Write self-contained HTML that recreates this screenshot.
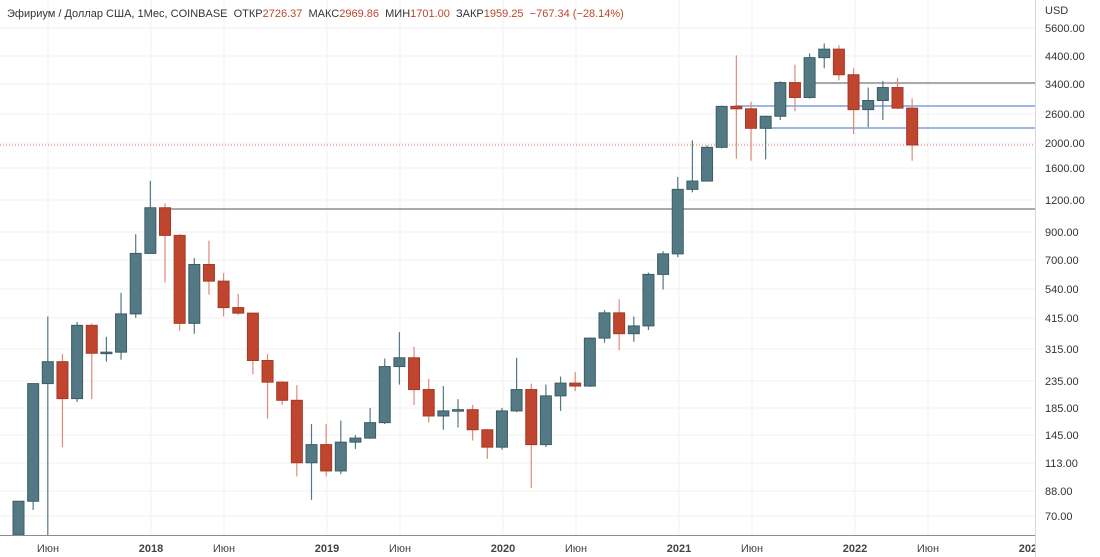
<!DOCTYPE html>
<html><head><meta charset="utf-8"><style>
html,body{margin:0;padding:0;background:#fff;width:1100px;height:557px;overflow:hidden}
svg{display:block;font-family:"Liberation Sans",sans-serif}
</style></head><body>
<svg id="c" width="1100" height="557" xmlns="http://www.w3.org/2000/svg">
<defs><clipPath id="cp"><rect x="0" y="0" width="1035" height="557"/></clipPath></defs>
<g id="grid"></g>
<line x1="0" y1="145" x2="1035" y2="145" stroke="#e06a5a" stroke-width="1" stroke-dasharray="1,2"/>
<line x1="160" y1="209" x2="1035" y2="209" stroke="#a9a9ae" stroke-width="2"/>
<line x1="815" y1="83" x2="1035" y2="83" stroke="#a9a9ae" stroke-width="2"/>
<line x1="735" y1="106" x2="1035" y2="106" stroke="#7f9ee0" stroke-width="1.5"/>
<line x1="765" y1="128" x2="1035" y2="128" stroke="#7f9ee0" stroke-width="1.5"/>
<g id="candles"></g>
<line x1="1035.5" y1="0" x2="1035.5" y2="557" stroke="#d6d6d6"/>
<line x1="0" y1="535.5" x2="1035" y2="535.5" stroke="#8c8c8c"/>
<text x="7" y="17" font-size="11" fill="#333">Эфириум / Доллар США, 1Мес, COINBASE&#160; ОТКР<tspan fill="#c0452e">2726.37</tspan>&#160; МАКС<tspan fill="#c0452e">2969.86</tspan>&#160; МИН<tspan fill="#c0452e">1701.00</tspan>&#160; ЗАКР<tspan fill="#c0452e">1959.25</tspan>&#160; <tspan fill="#c0452e">−767.34 (−28.14%)</tspan></text>
<g font-size="11" fill="#333">
<text x="1045" y="14">USD</text>
<text x="1045" y="32">5600.00</text><text x="1045" y="60">4400.00</text><text x="1045" y="88">3400.00</text>
<text x="1045" y="118">2600.00</text><text x="1045" y="147">2000.00</text><text x="1045" y="172">1600.00</text>
<text x="1045" y="204">1200.00</text><text x="1045" y="236">900.00</text><text x="1045" y="264">700.00</text>
<text x="1045" y="293">540.00</text><text x="1045" y="322">415.00</text><text x="1045" y="353">315.00</text>
<text x="1045" y="385">235.00</text><text x="1045" y="412">185.00</text><text x="1045" y="439">145.00</text>
<text x="1045" y="467">113.00</text><text x="1045" y="495">88.00</text><text x="1045" y="520">70.00</text>
</g>
<g font-size="11" fill="#444" text-anchor="middle" clip-path="url(#cp)">
<text x="48" y="552">Июн</text><text x="151" y="552" font-weight="bold">2018</text>
<text x="224" y="552">Июн</text><text x="327" y="552" font-weight="bold">2019</text>
<text x="400" y="552">Июн</text><text x="503" y="552" font-weight="bold">2020</text>
<text x="576" y="552">Июн</text><text x="679" y="552" font-weight="bold">2021</text>
<text x="752" y="552">Июн</text><text x="855" y="552" font-weight="bold">2022</text>
<text x="928" y="552">Июн</text><text x="1031" y="552" font-weight="bold">2023</text>
</g>
</svg>
<script>
var Y=function(p){return 989.4-111.4*Math.log(p)};
var d=[[50,80,48,80],[80,230,74,230],[230,420,40,280],[280,300,130,201],[201,400,195,388],[388,395,200,302],[302,350,280,305],[305,520,285,430],[430,880,415,740],
[740,1420,740,1115],[1115,1160,570,870],[870,880,370,395],[395,710,360,670],[670,830,510,577],[577,620,420,455],[455,515,425,433],[433,430,250,283],[283,300,168,233],[233,235,190,198],[198,227,100,113],[113,160,81,133],
[133,160,100,105],[105,165,102,136],[136,145,128,141],[141,185,140,162],[162,288,160,268],[268,365,228,290],[290,320,190,218],[218,240,162,172],[172,225,152,180],[180,200,155,182],[182,190,138,152],[152,153,117,130],
[130,185,127,180],[180,290,178,218],[218,230,90,133],[133,228,130,206],[206,245,180,231],[231,255,215,225],[225,348,223,346],[346,445,332,434],[434,490,310,360],[360,420,335,386],[386,623,372,613],[613,755,535,737],
[737,1470,715,1315],[1315,2040,1280,1417],[1417,1950,1410,1918],[1918,2790,1900,2770],[2770,4380,1730,2710],[2710,2890,1700,2275],[2275,2550,1720,2535],[2535,3470,2450,3430],[3430,4030,2650,3000],[3000,4460,2970,4290],[4290,4870,3900,4630],[4630,4800,3500,3680],
[3680,3900,2160,2690],[2690,3280,2300,2920],[2920,3480,2450,3280],[3280,3580,2700,2727],[2727,2970,1701,1959]];
var s='';
d.forEach(function(c,i){
 var x=18.5+i*14.65,o=c[0],h=c[1],l=c[2],cl=c[3],up=cl>=o;
 var fill=up?'#537a84':'#c0452e',st=up?'#3c5c66':'#a53a26',wk=up?'#537a84':'#e08a7a';
 var yl=Math.min(Y(l),535);
 s+='<line x1="'+x+'" x2="'+x+'" y1="'+Y(h)+'" y2="'+yl+'" stroke="'+wk+'" stroke-width="1.2"/>';
 var t=Y(Math.max(o,cl)),b=Y(Math.min(o,cl));
 if(b>535)b=535;
 var hh=Math.max(b-t,1.5);
 s+='<rect x="'+(x-5.5)+'" y="'+t+'" width="11" height="'+hh+'" fill="'+fill+'" stroke="'+st+'" stroke-width="1"/>';
});
document.getElementById('candles').innerHTML=s;
var g='';
[48,151,224,327,400,503,576,679,752,855,928].forEach(function(x){g+='<line x1="'+x+'" x2="'+x+'" y1="0" y2="535" stroke="#f0f1f3"/>';});
[28,56,84,114,143,168,200,232,260,289,318,349,381,408,435,463,491,516].forEach(function(y){g+='<line x1="0" x2="1035" y1="'+y+'" y2="'+y+'" stroke="#f0f1f3"/>';});
document.getElementById('grid').innerHTML=g;
</script>
</body></html>
